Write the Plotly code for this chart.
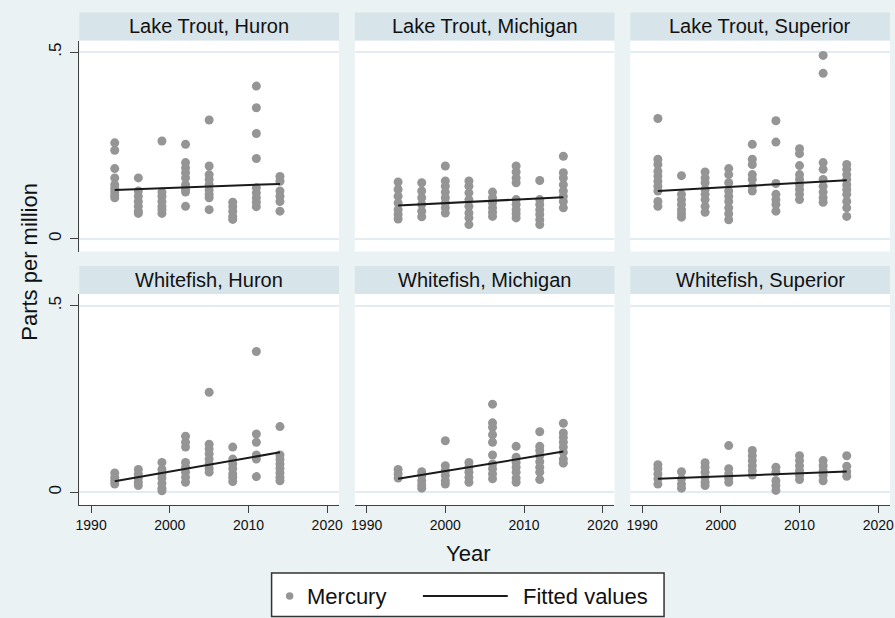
import plotly.graph_objects as go

W, H = 895, 618

# ---------------- data ----------------
PANEL_TITLES = ["Lake Trout, Huron", "Lake Trout, Michigan", "Lake Trout, Superior",
                "Whitefish, Huron", "Whitefish, Michigan", "Whitefish, Superior"]

LT_HURON = {
    1993: [0.257, 0.237, 0.188, 0.163, 0.145, 0.135, 0.125, 0.117, 0.110],
    1996: [0.163, 0.128, 0.114, 0.100, 0.087, 0.074, 0.068],
    1999: [0.262, 0.125, 0.114, 0.100, 0.087, 0.078, 0.068],
    2002: [0.253, 0.204, 0.190, 0.177, 0.163, 0.145, 0.132, 0.125, 0.087],
    2005: [0.318, 0.195, 0.172, 0.159, 0.145, 0.131, 0.119, 0.110, 0.078],
    2008: [0.098, 0.086, 0.074, 0.060, 0.052],
    2011: [0.409, 0.351, 0.282, 0.215, 0.137, 0.123, 0.110, 0.098, 0.086],
    2014: [0.167, 0.154, 0.128, 0.114, 0.100, 0.074],
}
LT_MICHIGAN = {
    1994: [0.152, 0.132, 0.114, 0.096, 0.078, 0.065, 0.053],
    1997: [0.150, 0.128, 0.110, 0.092, 0.074, 0.059],
    2000: [0.195, 0.155, 0.141, 0.125, 0.110, 0.096, 0.083, 0.069],
    2003: [0.155, 0.141, 0.123, 0.105, 0.087, 0.069, 0.056, 0.038],
    2006: [0.125, 0.110, 0.096, 0.083, 0.071, 0.060],
    2009: [0.195, 0.179, 0.163, 0.150, 0.105, 0.092, 0.078, 0.067, 0.056],
    2012: [0.156, 0.105, 0.092, 0.078, 0.065, 0.051, 0.038],
    2015: [0.221, 0.177, 0.163, 0.145, 0.128, 0.114, 0.100, 0.083],
}
LT_SUPERIOR = {
    1992: [0.322, 0.213, 0.199, 0.181, 0.168, 0.154, 0.141, 0.128, 0.100, 0.087],
    1995: [0.169, 0.119, 0.105, 0.092, 0.078, 0.067, 0.058],
    1998: [0.179, 0.163, 0.150, 0.132, 0.119, 0.105, 0.087, 0.071],
    2001: [0.188, 0.172, 0.150, 0.128, 0.114, 0.100, 0.083, 0.067, 0.051],
    2004: [0.253, 0.213, 0.199, 0.172, 0.159, 0.141, 0.128],
    2007: [0.316, 0.259, 0.148, 0.119, 0.105, 0.092, 0.074],
    2010: [0.241, 0.228, 0.196, 0.172, 0.159, 0.145, 0.132, 0.119, 0.105],
    2013: [0.491, 0.443, 0.204, 0.186, 0.159, 0.141, 0.125, 0.110, 0.098],
    2016: [0.199, 0.186, 0.172, 0.159, 0.145, 0.132, 0.119, 0.100, 0.083, 0.060],
}
WF_HURON = {
    1993: [0.052, 0.040, 0.031, 0.022],
    1996: [0.061, 0.049, 0.038, 0.027, 0.018],
    1999: [0.080, 0.061, 0.049, 0.038, 0.024, 0.011, 0.004],
    2002: [0.150, 0.134, 0.121, 0.080, 0.067, 0.054, 0.040, 0.027],
    2005: [0.268, 0.129, 0.116, 0.103, 0.089, 0.076, 0.064, 0.054],
    2008: [0.121, 0.089, 0.076, 0.063, 0.049, 0.040, 0.029],
    2011: [0.377, 0.156, 0.134, 0.100, 0.089, 0.042],
    2014: [0.176, 0.100, 0.088, 0.076, 0.064, 0.052, 0.040, 0.031],
}
WF_MICHIGAN = {
    1994: [0.061, 0.049, 0.038],
    1997: [0.055, 0.045, 0.031, 0.020, 0.011],
    2000: [0.138, 0.071, 0.058, 0.045, 0.031, 0.022],
    2003: [0.080, 0.067, 0.054, 0.040, 0.027],
    2006: [0.236, 0.186, 0.174, 0.154, 0.134, 0.100, 0.076, 0.063, 0.049, 0.036],
    2009: [0.123, 0.094, 0.080, 0.067, 0.054, 0.038, 0.027],
    2012: [0.162, 0.123, 0.112, 0.098, 0.082, 0.067, 0.054, 0.034],
    2015: [0.185, 0.159, 0.147, 0.134, 0.121, 0.107, 0.089, 0.078],
}
WF_SUPERIOR = {
    1992: [0.074, 0.063, 0.049, 0.036, 0.022],
    1995: [0.055, 0.036, 0.022, 0.011],
    1998: [0.079, 0.067, 0.054, 0.040, 0.027, 0.018],
    2001: [0.125, 0.063, 0.049, 0.038, 0.027],
    2004: [0.112, 0.098, 0.085, 0.071, 0.058, 0.046],
    2007: [0.067, 0.054, 0.031, 0.018, 0.005],
    2010: [0.098, 0.085, 0.071, 0.058, 0.045, 0.034],
    2013: [0.085, 0.071, 0.058, 0.045, 0.031],
    2016: [0.098, 0.070, 0.055, 0.043],
}

# fitted values: (first year, value), (last year, value)
LT_HURON_FIT = [(1993, 0.131), (2014, 0.147)]
LT_MICHIGAN_FIT = [(1994, 0.089), (2015, 0.1115)]
LT_SUPERIOR_FIT = [(1992, 0.128), (2016, 0.157)]
WF_HURON_FIT = [(1993, 0.0295), (2014, 0.107)]
WF_MICHIGAN_FIT = [(1994, 0.036), (2015, 0.109)]
WF_SUPERIOR_FIT = [(1992, 0.036), (2016, 0.056)]

X_TICKS = [1990, 2000, 2010, 2020]
Y_TICKS = [0, 0.5]
Y_TICK_TEXT = ["0", ".5"]

PANELS = [LT_HURON, LT_MICHIGAN, LT_SUPERIOR, WF_HURON, WF_MICHIGAN, WF_SUPERIOR]
FITS = [LT_HURON_FIT, LT_MICHIGAN_FIT, LT_SUPERIOR_FIT, WF_HURON_FIT, WF_MICHIGAN_FIT, WF_SUPERIOR_FIT]

# ---------------- styling ----------------
FONT = "Liberation Sans, Arial, sans-serif"
BG = "#EAF2F3"
STRIP = "#D7E4EA"
GRID = "#E3ECF0"
DOT = "#959595"
INK = "#111111"
AXIS = "#404040"

COL_PX = [(76, 338), (354, 616), (632, 894)]
ROW_PX = [(40.5, 251.5), (294, 505)]
STRIP_H = 28
X_RANGE = [1988.5, 2021.5]
Y_RANGE = [-0.034, 0.531]

fig = go.Figure()
layout = {}
shapes = []
annotations = []

for i, (data, fit) in enumerate(zip(PANELS, FITS)):
    r, c = divmod(i, 3)
    sfx = "" if i == 0 else str(i + 1)
    xs, ys = [], []
    for yr, vals in data.items():
        xs += [yr] * len(vals)
        ys += vals
    fig.add_trace(go.Scatter(
        x=xs, y=ys, mode="markers", name="Mercury", showlegend=False,
        marker=dict(size=9, color=DOT, line=dict(width=0)),
        xaxis="x" + sfx, yaxis="y" + sfx))
    fig.add_trace(go.Scatter(
        x=[p[0] for p in fit], y=[p[1] for p in fit], mode="lines",
        name="Fitted values", showlegend=False,
        line=dict(color="#1a1a1a", width=2),
        xaxis="x" + sfx, yaxis="y" + sfx))

    x0, x1 = COL_PX[c]
    y0, y1 = ROW_PX[r]
    bottom = (r == 1)
    left = (c == 0)
    layout["xaxis" + sfx] = dict(
        domain=[x0 / W, x1 / W], range=X_RANGE, anchor="y" + sfx,
        tickvals=X_TICKS, showticklabels=bottom,
        ticks="outside" if bottom else "", ticklen=7, tickwidth=1, tickcolor=AXIS,
        showline=bottom, linecolor=AXIS, linewidth=1,
        showgrid=False, zeroline=False,
        tickfont=dict(family=FONT, size=14, color=INK))
    layout["yaxis" + sfx] = dict(
        domain=[1 - y1 / H, 1 - y0 / H], range=Y_RANGE, anchor="x" + sfx,
        tickvals=Y_TICKS, ticktext=Y_TICK_TEXT, showticklabels=left,
        ticks="outside" if left else "", ticklen=8, tickwidth=1, tickcolor=AXIS,
        showline=left, linecolor=AXIS, linewidth=1,
        showgrid=True, gridcolor=GRID, gridwidth=2, zeroline=False,
        tickangle=-90, ticklabelstandoff=3,
        tickfont=dict(family=FONT, size=17, color=INK))

    ph = y1 - y0
    shapes.append(dict(type="rect", xref="x%s domain" % sfx, yref="y%s domain" % sfx,
                       x0=0, x1=1, y0=1, y1=1 + STRIP_H / ph,
                       fillcolor=STRIP, line=dict(width=0), layer="below"))
    annotations.append(dict(text=PANEL_TITLES[i], xref="x%s domain" % sfx, yref="y%s domain" % sfx,
                            x=0.5, y=1 + STRIP_H / 2 / ph, xanchor="center", yanchor="middle",
                            showarrow=False, font=dict(family=FONT, size=20, color=INK)))

# axis titles
annotations.append(dict(text="Year", xref="paper", yref="paper", x=468.5 / W, y=1 - 553 / H,
                        xanchor="center", yanchor="middle", showarrow=False,
                        font=dict(family=FONT, size=22, color=INK)))
annotations.append(dict(text="Parts per million", xref="paper", yref="paper", x=25 / W, y=1 - 262 / H,
                        xanchor="center", yanchor="middle", textangle=-90, showarrow=False,
                        font=dict(family=FONT, size=22, color=INK)))

# legend (drawn as a key box)
def px(x):
    return x / W

def py(y):
    return 1 - y / H

ly = 596
shapes.append(dict(type="rect", xref="paper", yref="paper", x0=px(270), x1=px(666),
                   y0=py(616.5), y1=py(573), fillcolor="white", line=dict(color="#333333", width=1.5)))
shapes.append(dict(type="circle", xref="paper", yref="paper", x0=px(284.5), x1=px(292),
                   y0=py(ly + 3.7), y1=py(ly - 3.7), fillcolor=DOT, line=dict(width=0)))
shapes.append(dict(type="line", xref="paper", yref="paper", x0=px(422.7), x1=px(508.3),
                   y0=py(ly), y1=py(ly), line=dict(color="#1a1a1a", width=2)))
annotations.append(dict(text="Mercury", xref="paper", yref="paper", x=px(304), y=py(ly),
                        xanchor="left", yanchor="middle", showarrow=False,
                        font=dict(family=FONT, size=22, color=INK)))
annotations.append(dict(text="Fitted values", xref="paper", yref="paper", x=px(522), y=py(ly),
                        xanchor="left", yanchor="middle", showarrow=False,
                        font=dict(family=FONT, size=22, color=INK)))

fig.update_layout(
    width=W, height=H, margin=dict(l=0, r=0, t=0, b=0),
    paper_bgcolor=BG, plot_bgcolor="white", showlegend=False,
    font=dict(family=FONT, color=INK),
    shapes=shapes, annotations=annotations, **layout)

fig.write_html("out.html")
